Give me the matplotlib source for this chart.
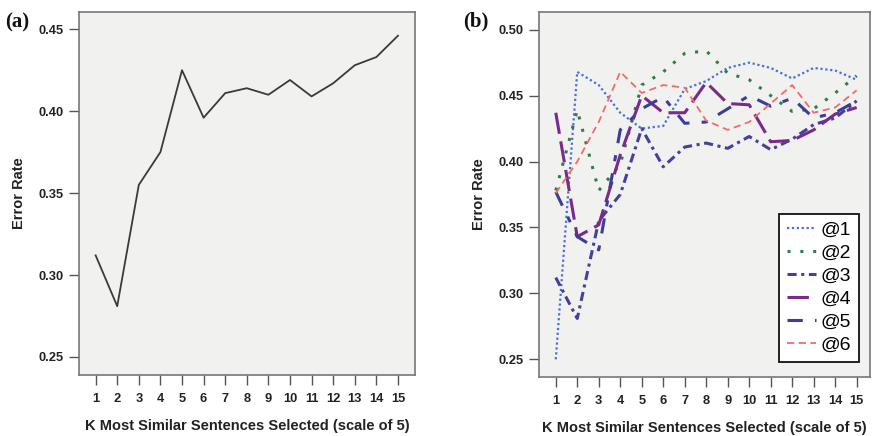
import matplotlib
matplotlib.use("Agg")
import matplotlib.pyplot as plt

k = list(range(1, 16))
k_labels = [str(i) for i in k]

# panel (a)
err_a = [0.312, 0.281, 0.355, 0.375, 0.425, 0.396, 0.411, 0.414, 0.410, 0.419, 0.409, 0.417, 0.428, 0.433, 0.446]

# panel (b)
s1 = [0.250, 0.468, 0.458, 0.437, 0.425, 0.427, 0.455, 0.461, 0.471, 0.475, 0.471, 0.463, 0.471, 0.469, 0.462]
s2 = [0.378, 0.439, 0.378, 0.398, 0.458, 0.468, 0.482, 0.484, 0.467, 0.462, 0.450, 0.438, 0.440, 0.452, 0.465]
s3 = err_a
s4 = [0.437, 0.343, 0.352, 0.405, 0.450, 0.437, 0.437, 0.460, 0.444, 0.443, 0.415, 0.416, 0.424, 0.436, 0.441]
s5 = [0.377, 0.343, 0.333, 0.424, 0.440, 0.449, 0.429, 0.430, 0.440, 0.450, 0.442, 0.448, 0.433, 0.437, 0.446]
s6 = [0.376, 0.400, 0.430, 0.468, 0.452, 0.458, 0.456, 0.431, 0.424, 0.430, 0.444, 0.458, 0.437, 0.441, 0.454]
series_names = ["@1", "@2", "@3", "@4", "@5", "@6"]

FONT = "Liberation Sans"
W, H = 872, 436
fig = plt.figure(figsize=(W / 100, H / 100), dpi=100)
fig.patch.set_facecolor("white")

def style_ax(ax, yticks, ylim, ax_h_px):
    ax.set_facecolor("#f1f2f0")
    for sp in ax.spines.values():
        sp.set_color("#777777")
        sp.set_linewidth(1.2)
    ax.set_ylim(*ylim)
    ax.set_xticks(k)
    ax.set_xticklabels(k_labels)
    ax.set_yticks(yticks)
    ax.set_yticklabels([f"{v:.2f}" for v in yticks])
    ax.tick_params(axis="both", direction="out", length=7, width=1, color="#555555",
                   labelsize=9.3, labelcolor="#222222", pad=4)
    ax.tick_params(axis="x", pad=6)
    for lab in ax.get_xticklabels() + ax.get_yticklabels():
        lab.set_fontfamily(FONT)
        lab.set_fontweight("bold")
    ax.set_xlabel("K Most Similar Sentences Selected (scale of 5)", fontfamily=FONT,
                  fontweight="bold", fontsize=10.5, color="#222222", va="center")
    ax.xaxis.set_label_coords(0.5, -51 / ax_h_px)
    ax.set_ylabel("Error Rate", fontfamily=FONT, fontweight="bold", fontsize=10.5,
                  color="#222222", labelpad=9)

# panel a
axa = fig.add_axes([79 / W, 1 - 375 / H, (415 - 79) / W, (375 - 12) / H])
axa.plot(k, err_a, color="#3a3a3a", lw=1.3)
style_ax(axa, [0.25, 0.30, 0.35, 0.40, 0.45], (0.239, 0.4605), 363)
axa.set_xlim(0.23, 15.79)
fig.text(5 / W, 1 - 22 / H, "(a)", fontfamily="Liberation Serif", fontweight="bold",
         fontsize=15, va="center", ha="left", color="#111111")

# panel b
axb = fig.add_axes([539 / W, 1 - 377 / H, (870 - 539) / W, (377 - 12) / H])
axb.plot(k, s1, color="#4a6fd6", lw=1.6, linestyle=(0, (1, 1.2)), label=series_names[0])
axb.plot(k, s2, color="#2e7d4a", lw=2.2, linestyle=(0, (1, 3.2)), label=series_names[1])
axb.plot(k, s3, color="#45409c", lw=2.2, linestyle=(0, (3, 1.5, 1, 1.5)), label=series_names[2])
axb.plot(k, s4, color="#7a2a8a", lw=2.2, linestyle=(0, (7, 2.5)), label=series_names[3])
axb.plot(k, s5, color="#3d3d98", lw=2.2, linestyle=(0, (5, 4, 2, 4)), label=series_names[4])
axb.plot(k, s6, color="#f26a6a", lw=1.3, linestyle=(0, (4, 2.5)), label=series_names[5])
style_ax(axb, [0.25, 0.30, 0.35, 0.40, 0.45, 0.50], (0.2366, 0.5134), 365)
axb.set_xlim(0.22, 15.62)
leg = axb.legend(loc="lower right", bbox_to_anchor=(0.967, 0.041), fancybox=False,
                 edgecolor="#111111", framealpha=1, facecolor="white",
                 prop={"family": FONT, "size": 14}, handlelength=1.5, handletextpad=0.25,
                 labelspacing=0.28, borderpad=0.4, borderaxespad=0)
leg.get_frame().set_linewidth(1.3)
fig.text(463 / W, 1 - 21 / H, "(b)", fontfamily="Liberation Serif", fontweight="bold",
         fontsize=15, va="center", ha="left", color="#111111")

fig.savefig("out.png", dpi=100)
